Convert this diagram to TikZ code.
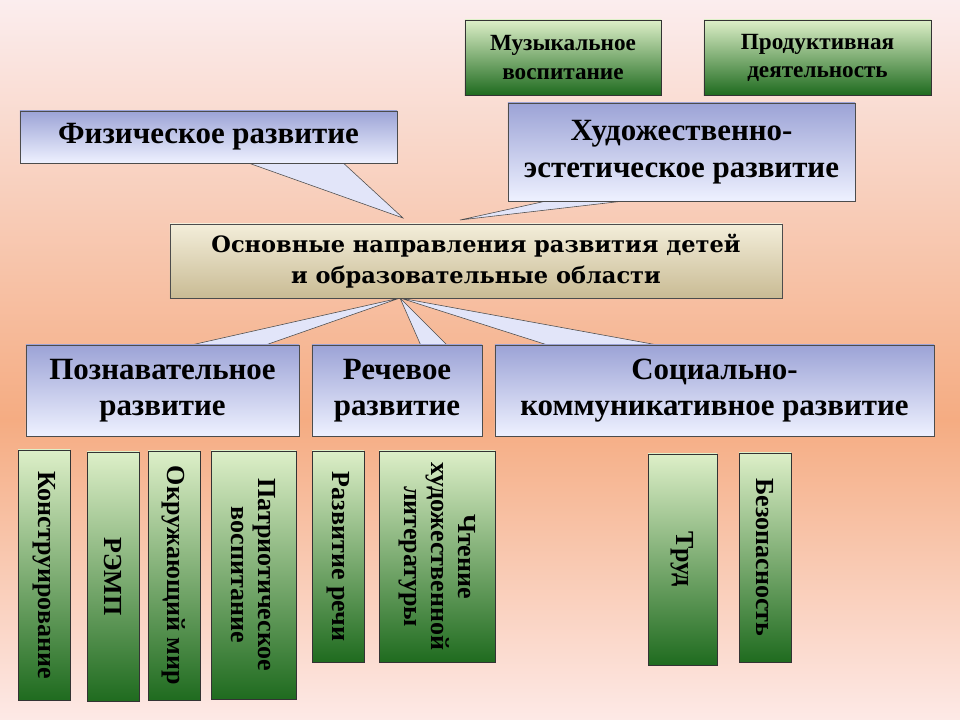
\documentclass[tikz,border=0pt]{standalone}
\usepackage{fontspec}
\setmainfont{Liberation Serif}
\newfontfamily\headfont{DejaVu Serif}
\usetikzlibrary{calc}

\definecolor{bgtop}{HTML}{FBEDEE}
\definecolor{bgmid}{HTML}{F5AC82}
\definecolor{bgbot}{HTML}{FDE9E6}
\definecolor{lavtop}{HTML}{9CA3D6}
\definecolor{lavbot}{HTML}{EEF1FF}
\definecolor{grtop}{HTML}{DDEFC8}
\definecolor{grbot}{HTML}{1F6B1F}
\definecolor{khtop}{HTML}{F3EEDA}
\definecolor{khbot}{HTML}{C9BB94}

\tikzset{
  area/.style={draw=black!70, top color=lavtop, bottom color=lavbot, align=center,
    font=\bfseries\fontsize{22}{26}\selectfont, inner sep=0pt},
  pointer/.style={draw=black!70, fill=lavbot!85!lavtop},
  subject/.style={draw=black!80, top color=grtop, bottom color=grbot, align=center,
    font=\bfseries\fontsize{16.5}{20}\selectfont, inner sep=0pt},
  strip/.style={draw=black!80, top color=grtop, bottom color=grbot},
  striptext/.style={rotate=-90, align=center, font=\bfseries\fontsize{18.5}{19}\selectfont}
}

\begin{document}
\begin{tikzpicture}[x=0.025cm, y=-0.025cm]
    % background
    \useasboundingbox (0,0) rectangle (960,720);
    \shade[top color=bgtop, bottom color=bgmid] (0,0) rectangle (960,420);
    \shade[top color=bgmid, bottom color=bgbot] (0,420) rectangle (960,720);

    % coordinates where the pointers meet the centre box
    \coordinate (tipfiz) at (403,218);
    \coordinate (tiphud) at (460,220);
    \coordinate (tipdown) at (400,298);

    % pointers of the callouts
    \fill[pointer] (240,160) -- (tipfiz) -- (340,160) -- cycle;
    \fill[pointer] (560,198) -- (tiphud) -- (650,198) -- cycle;
    \fill[pointer] (178,348) -- (tipdown) -- (257,348) -- cycle;
    \fill[pointer] (422,348) -- (tipdown) -- (450,348) -- cycle;
    \fill[pointer] (557,348) -- (tipdown) -- (674,348) -- cycle;

    % upper nodes
    \node[subject, minimum width=4.9cm, minimum height=1.875cm] (muz) at (563,57.5)
        {Музыкальное\\воспитание};
    \node[subject, minimum width=5.675cm, minimum height=1.875cm] (prod) at (817.5,57.5)
        {Продуктивная\\деятельность};
    \node[area, minimum width=9.425cm, minimum height=1.3cm] (fiz) at (208.5,137)
        {Физическое развитие};
    \node[area, minimum width=8.675cm, minimum height=2.45cm] (hud) at (681.5,152)
        {Художественно-\\эстетическое развитие};

    % centre node
    \node[draw=black!70, top color=khtop, bottom color=khbot, minimum width=15.3cm,
        minimum height=1.85cm, align=center, inner sep=0pt,
        font=\headfont\bfseries\fontsize{16}{22}\selectfont] (main) at (476,261)
        {Основные направления развития детей\\и образовательные области};

    % lower nodes
    \node[area, minimum width=6.825cm, minimum height=2.275cm] (pozn) at (162.5,390.5)
        {Познавательное\\развитие};
    \node[area, minimum width=4.25cm, minimum height=2.275cm] (rech) at (397,390.5)
        {Речевое\\развитие};
    \node[area, minimum width=10.975cm, minimum height=2.275cm] (soc) at (714.5,390.5)
        {Социально-\\коммуникативное развитие};

    % vertical strips
    \foreach \xa/\ya/\xb/\yb/\txt [count=\i] in {
        18/450/70/700/Конструирование,
        87/452/139/701/РЭМП,
        148/451/200/700/Окружающий мир,
        211/451/296/699/{Патриотическое\\воспитание},
        312/451/364/662/Развитие речи,
        379/451/495/662/{Чтение\\художественной\\литературы},
        648/454/717/665/Труд,
        739/453/791/662/Безопасность} {
        \path[strip] (\xa,\ya) rectangle (\xb,\yb);
        \node[striptext] (strip\i) at ({(\xa+\xb)/2},{(\ya+\yb)/2}) {\txt};
    }
\end{tikzpicture}
\end{document}
